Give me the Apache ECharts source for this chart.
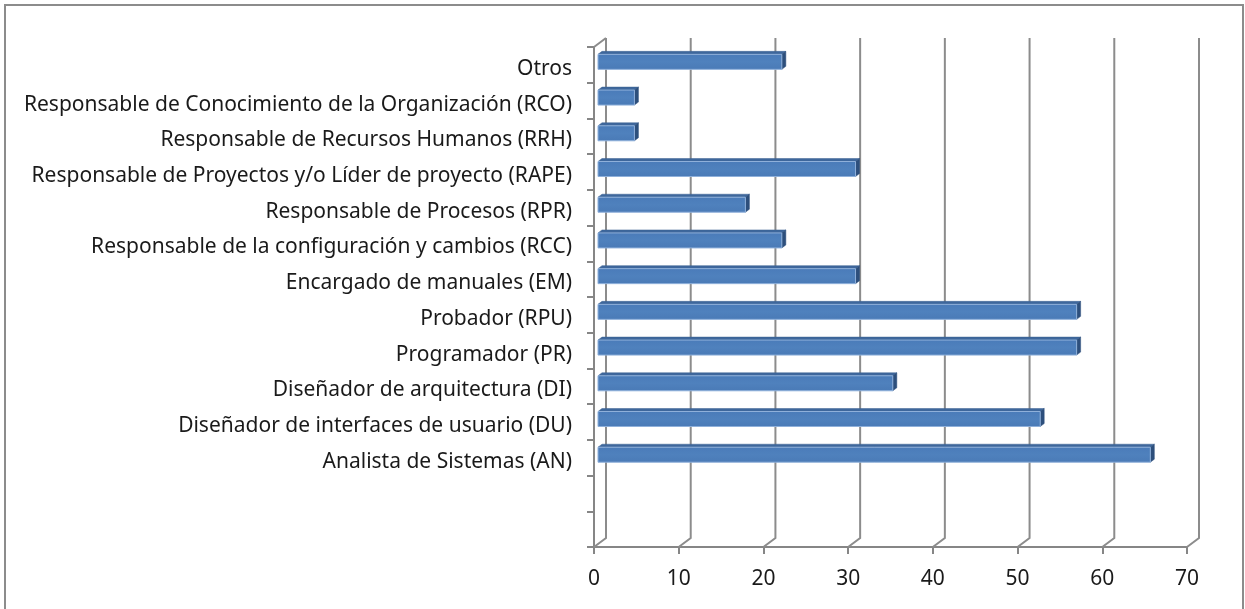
<!DOCTYPE html>
<html>
<head>
<meta charset="utf-8">
<script src="https://cdn.jsdelivr.net/npm/echarts@6/dist/echarts.min.js"></script>
<style>
html,body{margin:0;padding:0;overflow:hidden;background:#fff;}
#chart{position:absolute;left:0;top:0;width:1245px;height:609px;}
#frame{position:absolute;left:4px;top:4px;width:1236px;height:650px;border:2px solid #8c8c8c;pointer-events:none;}
</style>
</head>
<body>
<div id="chart"></div>
<div id="frame"></div>
<script>
// Categories, top to bottom (two empty slots at the bottom of the axis)
var categories = [
  'Otros',
  'Responsable de Conocimiento de la Organización (RCO)',
  'Responsable de Recursos Humanos (RRH)',
  'Responsable de Proyectos y/o Líder de proyecto (RAPE)',
  'Responsable de Procesos (RPR)',
  'Responsable de la configuración y cambios (RCC)',
  'Encargado de manuales (EM)',
  'Probador (RPU)',
  'Programador (PR)',
  'Diseñador de arquitectura (DI)',
  'Diseñador de interfaces de usuario (DU)',
  'Analista de Sistemas (AN)',
  ' ',
  '  '
];
var values = [21.7, 4.3, 4.3, 30.4, 17.4, 21.7, 30.4, 56.5, 56.5, 34.8, 52.2, 65.2];
var xTicks = [0, 10, 20, 30, 40, 50, 60, 70];

var DX = 12, DY = -9; // depth of the 3D wall

var chart = echarts.init(document.getElementById('chart'), null, {renderer: 'canvas'});

var barData = values.map(function (v, i) { return [v, i]; });
var gridData = xTicks.map(function (v) { return [v, 0]; });

var labelFont = '"Noto Sans", sans-serif';

chart.setOption({
  animation: false,
  backgroundColor: '#ffffff',
  grid: {left: 594, top: 47, right: 58, bottom: 62, containLabel: false},
  xAxis: {
    type: 'value', min: 0, max: 70, interval: 10,
    axisLine: {show: true, lineStyle: {color: '#868686', width: 2}},
    axisTick: {show: true, length: 7, lineStyle: {color: '#868686', width: 2}},
    splitLine: {show: false},
    axisLabel: {color: '#1a1a1a', fontFamily: labelFont, fontSize: 21, margin: 22}
  },
  yAxis: {
    type: 'category', inverse: true, data: categories,
    boundaryGap: true,
    axisLine: {show: true, lineStyle: {color: '#868686', width: 2}},
    axisTick: {show: true, length: 7, alignWithLabel: false, lineStyle: {color: '#868686', width: 2}},
    splitLine: {show: false},
    axisLabel: {
      color: '#1a1a1a', fontFamily: labelFont, fontSize: 21, margin: 22,
      formatter: function (v) { return '{a|' + v + '}'; },
      rich: {a: {color: '#1a1a1a', fontFamily: labelFont, fontSize: 21, padding: [8, 0, 0, 0]}}
    }
  },
  series: [
    {
      type: 'custom', name: 'walls', z: 1, silent: true, clip: false,
      data: gridData,
      renderItem: function (params, api) {
        var cs = params.coordSys;
        var x = api.coord([api.value(0), 0])[0];
        var top = cs.y, bottom = cs.y + cs.height;
        var children = [{
          type: 'polyline',
          shape: {points: [[x, bottom], [x + DX, bottom + DY], [x + DX, top + DY]]},
          style: {stroke: '#8c8c8c', lineWidth: 2, fill: null}
        }];
        if (api.value(0) === 0) {
          children.push({
            type: 'line',
            shape: {x1: x, y1: top, x2: x + DX, y2: top + DY},
            style: {stroke: '#8c8c8c', lineWidth: 2}
          });
        }
        return {type: 'group', children: children};
      }
    },
    {
      type: 'custom', name: 'Roles', z: 3, clip: false,
      data: barData,
      renderItem: function (params, api) {
        var cat = api.value(1);
        var p0 = api.coord([0, cat]);
        var p1 = api.coord([api.value(0), cat]);
        var band = api.size([0, 1])[1];
        var h = band * 0.42;
        var fx = DX / 3, fy = DY / 3;     // front face of the bar at 1/3 depth
        var bx = DX * 2 / 3, by = DY * 2 / 3; // back face at 2/3 depth
        var x0 = p0[0] + fx, x1 = p1[0] + fx;
        var yt = p0[1] + fy - h / 2, yb = p0[1] + fy + h / 2;
        var ddx = bx - fx, ddy = by - fy;
        return {
          type: 'group',
          children: [
            {
              type: 'polygon',
              shape: {points: [[x0, yt], [x1, yt], [x1 + ddx, yt + ddy], [x0 + ddx, yt + ddy]]},
              style: {fill: '#3e679c', stroke: '#3a6091', lineWidth: 0.5}
            },
            {
              type: 'polygon',
              shape: {points: [[x1, yt], [x1 + ddx, yt + ddy], [x1 + ddx, yb + ddy], [x1, yb]]},
              style: {fill: '#2d4f7c', stroke: '#2d4f7c', lineWidth: 0.5}
            },
            {
              type: 'rect',
              shape: {x: x0, y: yt, width: x1 - x0, height: yb - yt},
              style: {
                fill: new echarts.graphic.LinearGradient(0, 0, 0, 1, [
                  {offset: 0, color: '#4a7bb9'},
                  {offset: 0.5, color: '#4f81bd'},
                  {offset: 1, color: '#4a7ab6'}
                ]),
                stroke: '#8fb0da', lineWidth: 1
              }
            }
          ]
        };
      }
    }
  ]
});
</script>
</body>
</html>
